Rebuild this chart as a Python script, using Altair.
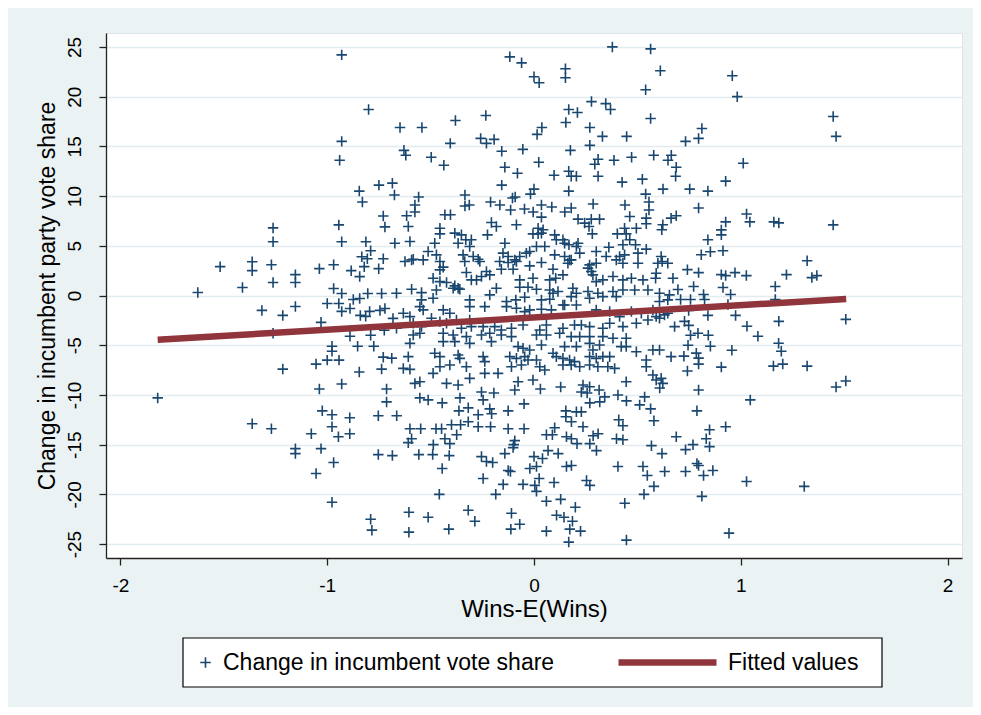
import altair as alt
import pandas as pd

FONT = "Liberation Sans, Arial, sans-serif"
NAVY = "#1A476F"
MAROON = "#90353B"
BG = "#EAF2F3"

# ---- data: (Wins-E(Wins), change in vote share) ----
pts_top = [
    (-0.93, 24.2), (-0.80, 18.7), (-0.93, 15.5), (-0.94, 13.6), (-0.845, 10.5), (-0.75, 11.1),
    (-0.685, 11.3), (-0.675, 10.1), (-0.83, 9.4),
    (0.379, 25.0), (0.564, 24.8), (-0.117, 24.0), (-0.06, 23.4), (0.152, 22.8), (0.152, 21.9),
    (0.0, 22.0), (0.025, 21.4), (0.611, 22.6), (0.54, 20.7), (0.278, 19.5), (0.347, 19.3),
    (0.37, 18.7), (0.168, 18.7), (0.21, 18.4), (0.564, 17.8), (0.154, 17.4), (0.27, 16.9),
    (-0.648, 16.9), (-0.542, 16.9), (-0.38, 17.6), (-0.233, 18.1), (0.038, 16.9), (0.015, 16.2),
    (0.331, 16.0), (0.448, 16.0), (-0.405, 15.3), (-0.258, 15.8), (-0.23, 15.3), (-0.193, 15.7),
    (-0.629, 14.6), (-0.62, 14.1), (-0.497, 13.9), (-0.436, 13.1), (-0.156, 14.5), (-0.054, 14.7),
    (0.176, 14.6), (0.27, 15.1), (0.31, 13.7), (0.294, 13.2), (0.387, 13.6), (0.472, 13.9),
    (0.579, 14.1), (0.648, 13.6), (0.664, 14.1), (0.688, 12.9), (-0.141, 12.9), (-0.08, 12.3),
    (0.023, 13.4), (0.097, 12.1), (0.168, 12.5), (0.18, 12.0), (0.205, 12.0), (0.31, 12.0),
    (0.426, 11.4), (0.524, 11.7), (0.685, 12.0), (0.624, 10.7), (-0.156, 11.1), (0.0, 10.7),
    (-0.017, 10.2), (0.168, 10.5), (0.54, 10.2), (-0.558, 9.9), (-0.334, 10.1), (-0.104, 9.8),
    (-0.091, 9.9), (-0.21, 9.4), (-0.165, 9.1), (0.036, 9.1), (0.086, 8.9), (0.286, 9.2),
    (0.44, 9.1), (0.556, 9.4), (0.556, 8.6), (-0.576, 9.1), (-0.576, 8.4), (-0.334, 9.0),
    (-0.313, 9.1), (-0.113, 8.6), (-0.046, 8.7), (-0.004, 8.4), (0.149, 8.4), (0.18, 8.8),
    (0.959, 22.1), (0.983, 20.0), (1.447, 18.0), (1.461, 16.0), (0.812, 16.8), (0.796, 15.8),
    (0.733, 15.5), (1.012, 13.3), (0.927, 11.5), (0.753, 10.7), (0.841, 10.5), (0.796, 8.8),
    (1.028, 8.2),
]

pts_left = [
    (-0.729, 8.0), (-0.721, 6.9), (-1.262, 6.8), (-1.262, 5.4), (-0.944, 7.1), (-0.93, 5.4),
    (-0.813, 5.4), (-0.79, 4.5), (-0.833, 3.9), (-0.806, 3.7), (-0.729, 3.7), (-1.518, 2.9),
    (-1.363, 3.4), (-1.363, 2.5), (-1.27, 3.1), (-1.262, 1.3), (-1.154, 2.1), (-1.154, 1.3),
    (-1.038, 2.7), (-0.969, 3.1), (-0.884, 2.5), (-0.843, 1.9), (-0.821, 2.9), (-0.751, 2.7),
    (-1.626, 0.3), (-1.41, 0.8), (-1.316, -1.5), (-1.215, -2.0), (-1.154, -1.1), (-1.03, -2.7),
    (-0.969, 0.7), (-0.93, 0.2), (-1.0, -0.8), (-0.944, -0.8), (-0.93, -1.6), (-0.89, -1.3),
    (-0.874, -0.4), (-0.843, -0.3), (-0.804, 0.2), (-0.737, 0.2), (-0.84, -2.0), (-0.814, -2.1),
    (-0.795, -1.6), (-0.745, -1.5), (-0.721, -1.3), (-0.682, -2.3), (-1.262, -3.8), (-0.89, -4.1),
    (-0.79, -4.0), (-0.724, -3.5), (-0.977, -5.1), (-0.977, -5.6), (-0.853, -5.1), (-0.775, -5.1),
    (-0.729, -6.2), (-0.688, -6.3), (-1.054, -6.9), (-1.0, -6.5), (-0.943, -6.5), (-1.215, -7.4),
    (-0.845, -7.7), (-0.737, -7.4), (-0.93, -8.9), (-1.038, -9.4), (-0.713, -9.4),
]

pts_right = [
    (0.927, 7.4), (1.044, 7.4), (1.16, 7.4), (1.184, 7.3), (1.447, 7.1), (0.906, 6.6),
    (0.906, 6.1), (0.841, 5.6), (0.809, 4.1), (0.853, 4.4), (0.914, 4.5), (1.321, 3.5),
    (0.742, 2.6), (0.796, 2.3), (0.906, 2.1), (0.927, 2.0), (0.972, 2.3), (1.027, 2.0),
    (1.221, 2.1), (1.344, 1.8), (1.368, 2.0), (0.696, 0.6), (0.772, 0.9), (0.82, 0.1),
    (0.914, 0.8), (0.951, 0.1), (1.167, 0.9), (1.167, -0.4), (0.709, -0.4), (0.757, -0.4),
    (0.825, -0.4), (0.938, -0.9), (1.508, -2.4), (0.748, -1.5), (0.841, -2.0), (0.975, -2.0),
    (1.184, -2.6), (0.728, -2.6), (0.748, -3.0), (1.03, -3.1), (1.083, -4.1), (0.757, -4.0),
    (0.793, -3.8), (0.843, -4.0), (0.745, -5.0), (0.853, -5.1), (1.183, -4.8), (1.196, -5.6),
    (0.957, -5.5), (0.725, -6.1), (0.785, -5.8), (0.796, -6.3), (0.796, -6.9), (0.906, -7.2),
    (1.158, -7.1), (1.203, -6.9), (1.321, -7.1), (0.742, -7.6), (1.508, -8.6), (1.461, -9.2),
    (0.796, -9.5),
]

pts_center = [
    (-0.616, 8.02), (-0.431, 8.12), (-0.404, 8.12), (0.036, 7.88), (0.213, 7.68), (0.277, 7.68),
    (0.317, 7.68), (0.463, 7.95), (0.543, 7.78), (0.663, 7.78), (0.688, 8.02),
    (-0.608, 6.94), (-0.455, 6.77), (-0.206, 7.34), (-0.182, 6.94), (-0.085, 7.11), (0.020, 6.77),
    (0.044, 6.61), (0.245, 7.28), (0.266, 6.94), (0.438, 6.77), (0.495, 6.77), (0.543, 7.21),
    (0.623, 7.11), (0.618, 6.61),
    (-0.455, 6.20), (-0.383, 6.27), (-0.351, 6.10), (-0.330, 5.60), (-0.303, 5.60), (-0.225, 6.10),
    (-0.005, 6.20), (0.020, 6.20), (0.036, 6.27), (0.100, 6.10), (0.108, 5.60), (0.140, 5.60),
    (0.169, 5.10), (0.205, 4.93), (0.282, 6.20), (0.403, 6.20), (0.446, 6.20), (0.463, 5.60),
    (-0.673, 5.26), (-0.600, 5.43), (-0.480, 5.26), (-0.367, 5.26), (-0.311, 4.93), (-0.141, 5.26),
    (0.012, 4.93), (0.052, 4.93), (0.148, 5.26), (0.213, 5.26), (0.362, 4.86), (0.430, 5.10),
    (0.491, 5.10),
    (-0.512, 4.42), (-0.472, 4.09), (-0.343, 4.09), (-0.294, 3.92), (-0.150, 4.26), (-0.125, 3.92),
    (-0.093, 3.58), (-0.069, 3.92), (-0.037, 4.26), (-0.021, 4.42), (0.100, 4.09), (0.148, 3.92),
    (0.172, 3.58), (0.221, 4.26), (0.301, 4.42), (0.349, 3.92), (0.414, 3.92), (0.438, 4.09),
    (0.503, 4.26), (0.543, 4.66), (0.615, 3.92), (-0.624, 3.42), (-0.592, 3.58), (-0.584, 3.65),
    (-0.536, 3.58), (-0.455, 3.42), (-0.335, 3.42), (-0.270, 3.65), (-0.262, 3.42), (-0.166, 3.42),
    (-0.125, 3.32), (-0.085, 3.42), (-0.021, 2.98), (0.036, 3.32), (0.164, 3.25), (0.180, 3.58),
    (0.269, 3.08), (0.301, 3.25), (0.398, 3.58), (0.430, 3.25), (0.599, 3.25), (0.620, 3.42),
    (0.647, 3.25), (0.503, 3.25),
    (-0.455, 2.58), (-0.439, 2.85), (-0.327, 2.31), (-0.278, 1.57), (-0.230, 2.41), (-0.214, 2.07),
    (-0.158, 2.64), (-0.101, 2.64), (-0.069, 1.57), (-0.005, 1.74), (0.092, 2.64), (0.105, 1.74),
    (0.076, 1.57), (0.140, 2.07), (0.261, 2.75), (0.277, 2.41), (0.285, 2.07), (0.301, 1.40),
    (0.333, 1.57), (0.382, 1.91), (0.430, 1.57), (0.471, 1.74), (0.527, 1.57), (0.588, 1.74),
    (0.591, 2.24), (0.672, 1.74), (-0.488, 1.74), (-0.455, 1.40), (-0.423, 1.30), (-0.383, 0.97),
    (-0.359, 0.63), (-0.303, 1.57), (-0.254, 1.91),
    (-0.665, 0.23), (-0.592, 0.63), (-0.544, 0.29), (-0.472, 0.56), (-0.391, 0.73), (-0.367, 0.73),
    (-0.311, -0.44), (-0.182, 0.73), (-0.069, 0.83), (-0.029, 0.83), (0.012, 0.63), (0.076, 0.56),
    (0.092, 0.23), (0.116, 0.40), (0.188, 0.73), (0.205, 0.23), (0.261, 0.40), (0.309, 0.23),
    (0.382, 0.40), (0.430, 0.56), (0.487, 0.56), (0.551, 0.56), (0.607, 0.23), (0.655, 0.06),
    (-0.544, -0.44), (-0.488, -0.28), (-0.214, 0.06), (-0.133, -0.61), (-0.088, -0.44),
    (-0.045, -0.18), (0.036, -0.44), (0.076, -0.38), (0.140, -0.95), (0.180, -0.11), (0.269, -0.28),
    (0.333, -0.11), (0.398, -0.11), (0.607, -0.61), (0.647, -0.44),
    (-0.632, -1.79), (-0.552, -1.12), (-0.536, -1.45), (-0.439, -1.45), (-0.407, -1.79),
    (-0.311, -1.12), (-0.238, -1.12), (-0.133, -1.12), (-0.085, -1.28), (-0.045, -1.62),
    (-0.021, -1.45), (0.036, -1.38), (0.084, -1.45), (0.148, -0.95), (0.205, -0.95), (0.301, -1.45),
    (0.366, -1.62), (0.414, -2.12), (0.471, -1.62), (0.519, -1.79), (0.575, -1.45), (0.591, -2.12),
    (0.647, -1.79), (-0.600, -2.12), (-0.496, -2.29), (-0.455, -2.63), (-0.375, -2.46),
    (-0.311, -2.46),
    (-0.665, -3.30), (-0.584, -2.79), (-0.544, -3.13), (-0.423, -2.79), (-0.351, -3.30),
    (-0.303, -3.13), (-0.246, -3.13), (-0.190, -3.13), (-0.158, -3.47), (-0.109, -3.30),
    (-0.053, -2.96), (0.028, -3.47), (0.060, -2.96), (0.140, -3.30), (0.196, -2.96), (0.229, -2.96),
    (0.269, -3.13), (0.333, -3.30), (0.366, -2.79), (0.430, -3.13), (0.495, -2.79), (0.551, -2.46),
    (0.607, -2.29), (0.631, -1.95), (0.680, -3.13), (-0.584, -3.97), (-0.552, -3.80),
    (-0.439, -3.80), (-0.391, -3.97), (-0.327, -4.14), (-0.254, -3.97), (-0.214, -3.80),
    (-0.158, -3.97), (-0.109, -4.14), (0.012, -3.97), (0.060, -3.97), (0.124, -3.80), (0.180, -4.14),
    (0.221, -4.14), (0.269, -4.14), (0.333, -4.14), (0.382, -4.30), (0.446, -4.30),
    (-0.600, -4.81), (-0.439, -4.64), (-0.383, -4.64), (-0.311, -4.81), (-0.206, -4.64),
    (-0.077, -5.14), (-0.053, -5.31), (-0.021, -5.48), (0.036, -4.98), (0.148, -5.14), (0.205, -5.14),
    (0.269, -4.81), (0.285, -5.48), (0.317, -4.98), (0.422, -5.14), (0.446, -5.14), (0.495, -5.65),
    (0.575, -5.48), (-0.608, -6.15), (-0.480, -5.81), (-0.455, -6.15), (-0.367, -5.98),
    (-0.359, -6.32), (-0.246, -6.15), (-0.117, -6.15), (-0.085, -6.32), (-0.045, -6.15),
    (-0.029, -6.49), (0.012, -6.49), (0.092, -5.81), (0.108, -6.15), (0.140, -6.32), (0.172, -6.49),
    (0.196, -6.65), (0.269, -6.15), (0.301, -6.32), (0.333, -6.15), (0.366, -6.15), (0.543, -6.49),
    (0.607, -5.48), (0.663, -6.15),
    (-0.632, -7.33), (-0.600, -7.43), (-0.488, -7.83), (-0.455, -7.16), (-0.407, -6.99),
    (-0.327, -7.16), (-0.238, -6.65), (-0.238, -7.83), (-0.174, -7.83), (-0.109, -7.16),
    (-0.061, -6.99), (0.028, -7.16), (0.052, -7.49), (0.140, -6.99), (0.180, -6.99), (0.221, -7.16),
    (0.269, -6.99), (0.309, -7.16), (0.357, -7.16), (0.390, -7.33), (0.543, -7.16), (0.575, -8.00),
    (0.591, -8.50), (0.615, -8.33), (0.623, -8.84), (-0.576, -8.84), (-0.552, -8.67),
    (-0.423, -8.84), (-0.367, -9.00), (-0.311, -8.33), (-0.077, -8.67), (-0.005, -8.50),
    (0.237, -9.00), (0.269, -9.17), (0.446, -8.67),
]

pts_bottom = [
    (-1.82, -10.3), (-0.713, -10.7), (-1.024, -11.6), (-0.977, -12.0), (-0.891, -12.3),
    (-0.753, -12.1), (-1.363, -12.9), (-1.27, -13.4), (-1.077, -13.9), (-0.977, -13.2),
    (-0.946, -14.2), (-0.891, -13.9), (-1.154, -15.4), (-1.154, -15.9), (-1.03, -15.4),
    (-0.753, -16.0), (-0.685, -16.1), (-0.969, -16.8), (-1.054, -17.9), (-0.977, -20.8),
    (-0.79, -22.5), (-0.784, -23.6),
    (1.046, -10.5), (0.788, -11.6), (0.849, -13.5), (0.927, -13.2), (0.833, -14.4), (0.769, -15.0),
    (0.849, -15.2), (0.733, -15.5), (0.788, -16.9), (0.796, -17.1), (0.733, -17.7), (0.82, -18.1),
    (0.865, -17.6), (1.028, -18.7), (1.307, -19.2), (0.812, -20.2), (0.943, -23.9),
    (-0.552, -10.3), (-0.512, -10.5), (-0.444, -10.8), (-0.358, -10.3), (-0.254, -9.7),
    (-0.246, -10.5), (-0.194, -9.8), (-0.093, -9.5), (0.031, -9.4), (0.129, -9.2), (0.229, -9.7),
    (0.257, -9.8), (0.315, -9.5), (0.342, -10.2), (0.406, -10.0), (0.535, -10.2), (0.608, -9.3),
    (-0.664, -12.1), (-0.363, -11.6), (-0.318, -11.3), (-0.27, -12.0), (-0.214, -11.4),
    (-0.205, -11.9), (-0.125, -11.6), (-0.048, -10.9), (0.27, -10.8), (0.318, -10.7), (0.447, -10.6),
    (0.511, -11.0), (0.564, -11.4), (0.154, -11.6), (0.154, -12.2), (0.205, -11.7), (0.229, -11.7),
    (0.181, -12.7), (0.41, -12.5), (0.43, -13.1), (0.58, -12.6), (-0.6, -13.4), (-0.548, -13.4),
    (-0.474, -13.4), (-0.447, -13.4), (-0.399, -13.0), (-0.355, -13.0), (-0.318, -12.7),
    (-0.27, -13.2), (-0.21, -13.2), (-0.125, -13.4), (-0.048, -13.4), (0.1, -13.3), (0.237, -13.2),
    (-0.592, -14.4), (-0.608, -14.8), (-0.431, -14.4), (-0.407, -14.9), (-0.374, -14.0),
    (-0.487, -15.0), (-0.098, -15.0), (-0.093, -14.6), (0.06, -14.0), (0.089, -14.0), (0.157, -14.2),
    (0.181, -14.4), (0.208, -14.9), (0.27, -14.9), (0.286, -14.1), (0.31, -13.9), (0.399, -14.4),
    (0.43, -14.5), (0.688, -14.2), (-0.557, -16.0), (-0.49, -16.0), (-0.41, -16.1), (-0.254, -16.2),
    (-0.23, -16.7), (-0.2, -16.8), (-0.141, -15.9), (-0.101, -15.3), (0.0, -16.2), (0.041, -16.4),
    (0.068, -15.6), (0.117, -15.9), (0.302, -15.6), (0.568, -15.1), (0.619, -15.9), (-0.444, -17.4),
    (-0.246, -18.4), (-0.125, -17.6), (-0.114, -17.7), (-0.02, -17.4), (0.012, -17.2), (0.025, -18.4),
    (-0.053, -19.0), (-0.149, -19.0), (0.004, -19.1), (0.012, -19.7), (0.097, -18.8), (0.157, -17.2),
    (0.181, -17.1), (0.254, -18.6), (0.27, -19.1), (0.406, -17.2), (0.527, -17.2), (0.548, -18.1),
    (0.632, -17.7), (0.58, -19.2), (0.532, -20.0), (-0.458, -20.0), (-0.185, -20.0), (0.06, -20.7),
    (0.129, -20.5), (0.2, -21.3), (0.109, -22.1), (0.145, -22.3), (0.186, -22.7), (0.439, -20.9),
    (-0.605, -21.8), (-0.512, -22.3), (-0.318, -21.6), (-0.286, -22.7), (-0.109, -21.9),
    (-0.069, -23.0), (-0.112, -23.5), (-0.605, -23.8), (-0.412, -23.5), (0.06, -23.7), (0.173, -23.5),
    (0.225, -23.7), (0.168, -24.8), (0.447, -24.6),
]

# fitted regression line, read at its two ends
fit_x = [-1.82, 1.51]
fit_y = [-4.45, -0.35]

scatter_label = "Change in incumbent vote share"
fit_label = "Fitted values"
x_ticks = [-2, -1, 0, 1, 2]
y_ticks = [-25, -20, -15, -10, -5, 0, 5, 10, 15, 20, 25]

pts = pts_top + pts_left + pts_right + pts_center + pts_bottom
scatter_df = pd.DataFrame({
    "x": [p[0] for p in pts],
    "y": [p[1] for p in pts],
    "series": scatter_label,
})
fit_df = pd.DataFrame({"x": fit_x, "y": fit_y, "series": fit_label})

x_scale = alt.Scale(domain=[-2.07, 2.07], nice=False, zero=False)
y_scale = alt.Scale(domain=[-26.4, 26.4], nice=False, zero=False)

x_axis = alt.Axis(values=x_ticks, labelExpr="toString(datum.value)", title="Wins-E(Wins)",
                  grid=False, labelFontSize=19, titleFontSize=24, tickSize=7,
                  labelPadding=11, titlePadding=2)
y_axis = alt.Axis(values=y_ticks, labelExpr="toString(datum.value)",
                  title="Change in incumbent party vote share",
                  grid=True, gridColor="#E2EBEE", gridWidth=1.5, labelAngle=270,
                  labelFontSize=19, titleFontSize=23, tickSize=7, labelPadding=15,
                  titlePadding=6)

PLUS = "M-1,0H1M0,-1V1"

frame = alt.Chart(alt.Data(values=[{"k": 1}])).mark_rect(
    fill="white", stroke="black", strokeWidth=1.2
).encode(
    x=alt.value(77), x2=alt.value(776), y=alt.value(605), y2=alt.value(654)
)

scatter = alt.Chart(scatter_df).mark_point(
    shape=PLUS, filled=False, size=110, strokeWidth=1.6, opacity=1
).encode(
    x=alt.X("x:Q", scale=x_scale, axis=x_axis),
    y=alt.Y("y:Q", scale=y_scale, axis=y_axis),
    color=alt.Color(
        "series:N",
        scale=alt.Scale(domain=[scatter_label], range=[NAVY]),
        legend=alt.Legend(title=None, orient="none", legendX=88, legendY=618,
                          symbolType=PLUS, symbolSize=110, symbolStrokeWidth=1.6,
                          labelFontSize=23, labelOffset=6, padding=0,
                          labelColor="black", labelFont=FONT, labelLimit=0),
    ),
)

fit = alt.Chart(fit_df).mark_line(strokeWidth=6.5, strokeCap="butt").encode(
    x=alt.X("x:Q", scale=x_scale),
    y=alt.Y("y:Q", scale=y_scale),
    color=alt.Color(
        "series:N",
        scale=alt.Scale(domain=[fit_label], range=[MAROON]),
        legend=alt.Legend(title=None, orient="none", legendX=509, legendY=577,
                          symbolType="stroke", symbolSize=9604, symbolStrokeWidth=6.5,
                          labelFontSize=23, labelOffset=8, padding=0,
                          labelColor="black", labelFont=FONT, labelLimit=0),
    ),
)

chart = (
    alt.layer(frame, scatter, fit)
    .resolve_scale(color="independent")
    .properties(
        width=856, height=525, background=BG,
        padding={"left": 98, "top": 25, "right": 11, "bottom": 149},
        autosize=alt.AutoSizeParams(type="none"),
    )
    .configure_view(stroke="#DCE5E8", fill="white")
    .configure_axis(
        domainColor="#222222", domainWidth=1.3, tickColor="#222222", tickWidth=1.3,
        labelColor="black", titleColor="black", labelFont=FONT, titleFont=FONT,
        titleFontWeight="normal",
    )
)

chart.save("out.html", embed_options={"renderer": "svg", "actions": False})
